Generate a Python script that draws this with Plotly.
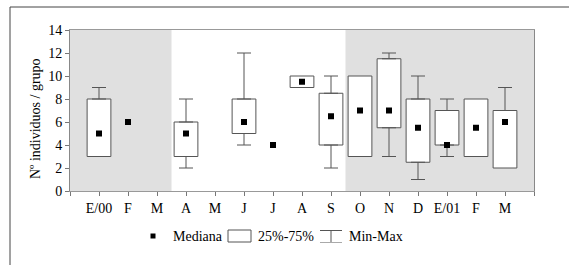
import plotly.graph_objects as go

# ---- data ----
months = ["E/00", "F", "M", "A", "M", "J", "J", "A", "S", "O", "N", "D", "E/01", "F", "M"]
median = [5, 6, None, 5, None, 6, 4, 9.5, 6.5, 7, 7, 5.5, 4, 5.5, 6]
q1     = [3, None, None, 3, None, 5, None, 9, 4, 3, 5.5, 2.5, 4, 3, 2]
q3     = [8, None, None, 6, None, 8, None, 10, 8.5, 10, 11.5, 8, 7, 8, 7]
vmin   = [3, None, None, 2, None, 4, None, 9, 2, 3, 3, 1, 3, 3, 2]
vmax   = [9, None, None, 8, None, 12, None, 10, 10, 10, 12, 10, 8, 8, 9]
shaded_spans = [(-1, 2.5), (8.5, 15)]
y_ticks = [0, 2, 4, 6, 8, 10, 12, 14]

xs = list(range(len(months)))
FONT = "Liberation Serif"
EDGE = "#555555"

# plot-area geometry (pixels) used to place paper-referenced decorations
L, R, T, B = 70, 35, 30, 74
W, H = 569, 265
PW, PH = W - L - R, H - T - B
def px(X): return (X - L) / PW
def py(Y): return (H - B - Y) / PH

fig = go.Figure()

# boxes (25%-75%)
box_x = [x for x, a in zip(xs, q1) if a is not None]
box_base = [a for a in q1 if a is not None]
box_h = [b - a for a, b in zip(q1, q3) if a is not None]
fig.add_trace(go.Bar(x=box_x, y=box_h, base=box_base, width=0.82,
                     marker=dict(color="white", line=dict(color=EDGE, width=1)),
                     hoverinfo="skip", showlegend=False))

# whiskers (upper: q3 -> max ; lower: q1 -> min)
up_x = [x for x, a, b in zip(xs, q3, vmax) if a is not None and b > a]
up_y = [a for a, b in zip(q3, vmax) if a is not None and b > a]
up_e = [b - a for a, b in zip(q3, vmax) if a is not None and b > a]
fig.add_trace(go.Scatter(x=up_x, y=up_y, mode="markers", marker=dict(size=0.1, color="rgba(0,0,0,0)"),
                         error_y=dict(type="data", symmetric=False, array=up_e, arrayminus=[0]*len(up_e),
                                      color=EDGE, thickness=1, width=7),
                         showlegend=False, hoverinfo="skip"))
lo_x = [x for x, a, b in zip(xs, q1, vmin) if a is not None and b < a]
lo_y = [a for a, b in zip(q1, vmin) if a is not None and b < a]
lo_e = [a - b for a, b in zip(q1, vmin) if a is not None and b < a]
fig.add_trace(go.Scatter(x=lo_x, y=lo_y, mode="markers", marker=dict(size=0.1, color="rgba(0,0,0,0)"),
                         error_y=dict(type="data", symmetric=False, array=[0]*len(lo_e), arrayminus=lo_e,
                                      color=EDGE, thickness=1, width=7),
                         showlegend=False, hoverinfo="skip"))

# medians
fig.add_trace(go.Scatter(x=xs, y=median, mode="markers",
                         marker=dict(symbol="square", size=6, color="black"),
                         showlegend=False, hoverinfo="skip"))

shapes = []
for a, b in shaded_spans:
    shapes.append(dict(type="rect", xref="x", yref="y", x0=a, x1=b, y0=0, y1=14,
                       fillcolor="#e0e0e0", line=dict(width=0), layer="below"))

# outer frame (top and left)
shapes.append(dict(type="line", xref="paper", yref="paper", x0=px(10), x1=px(W + 5), y0=py(7), y1=py(7),
                   line=dict(color="#444", width=1)))
shapes.append(dict(type="line", xref="paper", yref="paper", x0=px(10), x1=px(10), y0=py(7), y1=py(H + 5),
                   line=dict(color="#444", width=1)))

# manual legend icons
ly = 236
shapes.append(dict(type="rect", xref="paper", yref="paper", x0=px(150.5), x1=px(155.5), y0=py(238.5), y1=py(233.5),
                   fillcolor="black", line=dict(width=0)))
shapes.append(dict(type="rect", xref="paper", yref="paper", x0=px(228), x1=px(251), y0=py(242), y1=py(230),
                   fillcolor="white", line=dict(color=EDGE, width=1)))
shapes.append(dict(type="line", xref="paper", yref="paper", x0=px(320), x1=px(342), y0=py(230.5), y1=py(230.5),
                   line=dict(color=EDGE, width=1)))
shapes.append(dict(type="line", xref="paper", yref="paper", x0=px(331), x1=px(331), y0=py(230.5), y1=py(242.5),
                   line=dict(color=EDGE, width=1)))
shapes.append(dict(type="line", xref="paper", yref="paper", x0=px(320), x1=px(342), y0=py(242.5), y1=py(242.5),
                   line=dict(color="#aaaaaa", width=1)))

annotations = []
for X, txt in [(171, "Mediana"), (256, "25%-75%"), (347, "Min-Max")]:
    annotations.append(dict(xref="paper", yref="paper", x=px(X), y=py(ly), text=txt, showarrow=False,
                            xanchor="left", yanchor="middle", font=dict(family=FONT, size=14, color="black")))
# y-axis title
annotations.append(dict(xref="paper", yref="paper", x=px(35), y=py(119), text="Nº individuos / grupo",
                        textangle=-90, showarrow=False, xanchor="center", yanchor="middle",
                        font=dict(family=FONT, size=14, color="black")))

fig.update_layout(
    width=W, height=H, margin=dict(l=L, r=R, t=T, b=B, autoexpand=False),
    paper_bgcolor="white", plot_bgcolor="white",
    showlegend=False, barmode="overlay",
    font=dict(family=FONT, size=14, color="black"),
    shapes=shapes, annotations=annotations,
    xaxis=dict(range=[-1, 15], tickvals=list(range(-1, 16)), ticktext=[""] + months + [""],
               automargin=False,
               showgrid=False, zeroline=False, showline=True, linecolor="#999", linewidth=1, mirror=True,
               ticks="outside", ticklen=4, tickcolor="#777", tickfont=dict(family=FONT, size=14)),
    yaxis=dict(range=[0, 14], tickvals=y_ticks, showgrid=False, zeroline=False, automargin=False,
               showline=True, linecolor="#888", linewidth=1, mirror=True,
               ticks="outside", ticklen=4, tickcolor="#777", tickfont=dict(family=FONT, size=14)),
)

fig.write_html("out.html", config={"displayModeBar": False},
               post_script="document.body.style.margin='0px';document.body.style.overflow='hidden';")
